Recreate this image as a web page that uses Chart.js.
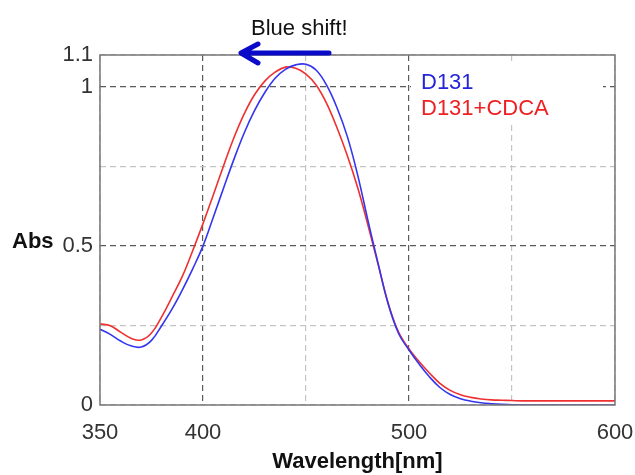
<!DOCTYPE html>
<html>
<head>
<meta charset="utf-8">
<script src="https://cdn.jsdelivr.net/npm/chart.js"></script>
<style>
  body { margin: 0; background: #fff; }
  #wrap { width: 635px; height: 475px; }
</style>
</head>
<body>
<div id="wrap"><canvas id="absChart"></canvas></div>
<script>
// wavelength grid (nm) and absorbance
const wavelength = [350, 355, 360, 365, 370, 375, 380, 385, 390, 395,
                    400, 405, 410, 415, 420, 425, 430, 435, 440, 445,
                    450, 455, 460, 465, 470, 475, 480, 485, 490, 495,
                    500, 505, 510, 515, 520, 525, 530, 535, 540, 545,
                    550, 555, 560, 565, 570, 575, 580, 585, 590, 595, 600];
const absD131 = [0.238, 0.222, 0.201, 0.186, 0.182, 0.203, 0.250, 0.302, 0.362, 0.428,
                 0.500, 0.590, 0.682, 0.772, 0.855, 0.925, 0.982, 1.027, 1.055, 1.069,
                 1.071, 1.052, 1.005, 0.935, 0.845, 0.725, 0.582, 0.445, 0.315, 0.224,
                 0.173, 0.128, 0.088, 0.055, 0.033, 0.020, 0.012, 0.007, 0.004, 0.002,
                 0.001, 0, 0, 0, 0, 0, 0, 0, 0, 0, 0];
const absCDCA = [0.255, 0.249, 0.229, 0.210, 0.204, 0.226, 0.278, 0.340, 0.405, 0.485,
                 0.570, 0.660, 0.752, 0.840, 0.915, 0.975, 1.018, 1.046, 1.062, 1.058,
                 1.040, 1.005, 0.948, 0.872, 0.785, 0.685, 0.567, 0.442, 0.318, 0.228,
                 0.176, 0.136, 0.100, 0.068, 0.046, 0.032, 0.024, 0.019, 0.016, 0.015,
                 0.014, 0.013, 0.013, 0.013, 0.013, 0.013, 0.013, 0.013, 0.013, 0.013, 0.013];

const xTicks = [350, 400, 450, 500, 550, 600];
const xTickLabels = ['350', '400', '', '500', '', '600'];
const yTicks = [0, 0.25, 0.5, 0.75, 1, 1.1];
const yTickLabels = ['0', '', '0.5', '', '1', '1.1'];
const seriesNames = ['D131', 'D131+CDCA'];

const FONT = 'Liberation Sans, Arial, Helvetica, sans-serif';
const BLUE = '#3535f0';
const RED = '#f03030';

function gridColor(ctx) {
    const v = ctx.tick ? ctx.tick.value : 0;
    return (v === 400 || v === 500 || v === 0.5 || v === 1) ? '#5a5a5a' : '#c4c4c4';
}

// box, legend, annotations
const decorPlugin = {
    id: 'decor',
    beforeDatasetsDraw(chart) {
        const ctx = chart.ctx;
        ctx.save();
        // legend sits on a white box covering the grid
        ctx.fillStyle = '#fff';
        ctx.fillRect(411, 63, 192, 60);
        ctx.font = '22px ' + FONT;
        ctx.textBaseline = 'alphabetic';
        ctx.fillStyle = '#2424d8';
        ctx.fillText(seriesNames[0], 421, 89);
        ctx.fillStyle = '#ee2020';
        ctx.fillText(seriesNames[1], 421, 115);
        ctx.restore();
    },
    afterDraw(chart) {
        const ctx = chart.ctx;
        const a = chart.chartArea;
        ctx.save();
        ctx.strokeStyle = '#777';
        ctx.lineWidth = 1.5;
        ctx.strokeRect(a.left, a.top, a.right - a.left, a.bottom - a.top);

        ctx.fillStyle = '#111';
        ctx.font = 'bold 22px ' + FONT;
        ctx.fillText('Abs', 12, 248);
        ctx.font = '22px ' + FONT;
        ctx.fillText('Blue shift!', 251, 35);

        // arrow pointing left
        ctx.strokeStyle = '#0a0ac8';
        ctx.lineWidth = 5;
        ctx.lineCap = 'round';
        ctx.lineJoin = 'round';
        ctx.beginPath();
        ctx.moveTo(329, 53);
        ctx.lineTo(242, 53);
        ctx.moveTo(258, 44);
        ctx.lineTo(241, 53);
        ctx.lineTo(258, 63);
        ctx.stroke();
        ctx.restore();
    }
};

const ctxAbs = document.getElementById('absChart').getContext('2d');
const absChart = new Chart(ctxAbs, {
    type: 'line',
    data: {
        datasets: [
            {
                label: seriesNames[0],
                data: wavelength.map((w, i) => ({ x: w, y: absD131[i] })),
                borderColor: BLUE,
                borderWidth: 1.6,
                pointRadius: 0,
                tension: 0.4,
                fill: false,
            },
            {
                label: seriesNames[1],
                data: wavelength.map((w, i) => ({ x: w, y: absCDCA[i] })),
                borderColor: RED,
                borderWidth: 1.6,
                pointRadius: 0,
                tension: 0.4,
                fill: false,
            }
        ]
    },
    options: {
        responsive: true,
        maintainAspectRatio: false,
        animation: false,
        layout: { padding: { top: 55, right: 20, left: 0, bottom: 0 } },
        plugins: {
            legend: { display: false },
            tooltip: { enabled: false }
        },
        scales: {
            x: {
                type: 'linear',
                min: 350,
                max: 600,
                afterBuildTicks: (scale) => { scale.ticks = xTicks.map(v => ({ value: v })); },
                afterFit: (scale) => {
                    scale.height = 70;
                    scale.paddingLeft = 0;
                    scale.paddingRight = 0;
                },
                ticks: {
                    autoSkip: false,
                    maxRotation: 0,
                    padding: 15,
                    color: '#333',
                    font: { family: FONT, size: 22 },
                    callback: (v, i) => xTickLabels[i]
                },
                grid: { color: gridColor, lineWidth: 1.2, drawTicks: false },
                border: { display: false, dash: [6, 4] },
                title: {
                    display: true,
                    text: 'Wavelength[nm]',
                    color: '#111',
                    font: { family: FONT, size: 22, weight: 'bold' },
                    padding: { top: 0, bottom: 0 }
                }
            },
            y: {
                min: 0,
                max: 1.1,
                afterBuildTicks: (scale) => { scale.ticks = yTicks.map(v => ({ value: v })); },
                afterFit: (scale) => {
                    scale.width = 100;
                    scale.paddingTop = 0;
                    scale.paddingBottom = 0;
                },
                ticks: {
                    autoSkip: false,
                    padding: 7,
                    color: '#333',
                    font: { family: FONT, size: 22 },
                    callback: (v, i) => yTickLabels[i]
                },
                grid: { color: gridColor, lineWidth: 1.2, drawTicks: false },
                border: { display: false, dash: [6, 4] }
            }
        }
    },
    plugins: [decorPlugin]
});
</script>
</body>
</html>
